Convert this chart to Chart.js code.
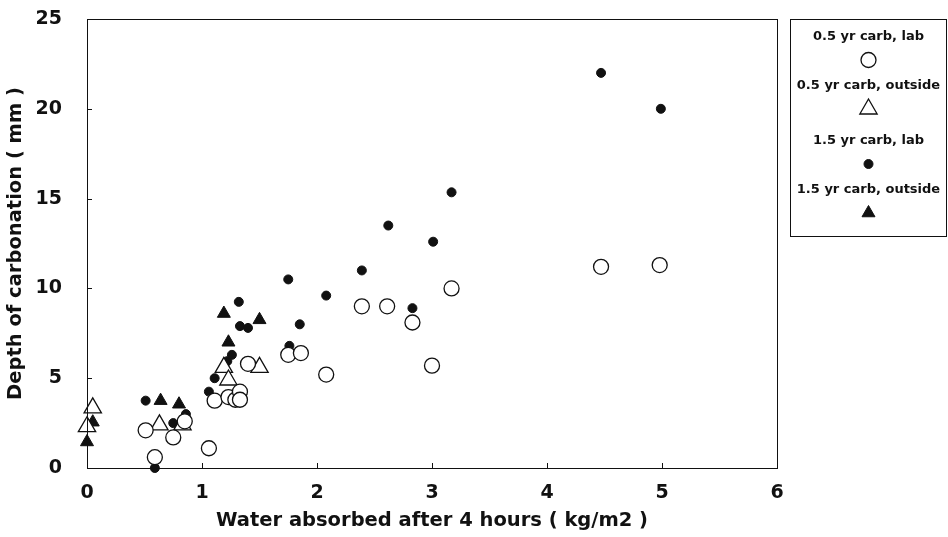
<!DOCTYPE html>
<html>
<head>
<meta charset="utf-8">
<script src="https://cdn.jsdelivr.net/npm/chart.js@4.4.1/dist/chart.umd.min.js"></script>
<style>
  body { margin: 0; background: #fff; }
  .wrap { width: 948px; height: 537px; position: relative; }
</style>
</head>
<body>
<div class="wrap"><canvas id="carbChart"></canvas></div>
<script>
// series values: water absorbed (kg/m2) vs depth of carbonation (mm)
const lab05X = [0.51, 0.59, 0.75, 0.85, 1.06, 1.11, 1.23, 1.29, 1.33, 1.33, 1.40, 1.75, 1.86, 2.08, 2.39, 2.61, 2.83, 3.00, 3.17, 4.47, 4.98];
const lab05Y = [2.1, 0.6, 1.7, 2.6, 1.1, 3.75, 3.95, 3.8, 4.25, 3.8, 5.8, 6.3, 6.4, 5.2, 9.0, 9.0, 8.1, 5.7, 10.0, 11.2, 11.3];

const out05X = [0.0, 0.05, 0.63, 0.83, 1.19, 1.23, 1.50];
const out05Y = [2.3, 3.35, 2.4, 2.4, 5.6, 4.9, 5.6];

const lab15X = [0.51, 0.59, 0.75, 0.86, 1.06, 1.11, 1.22, 1.26, 1.32, 1.33, 1.40, 1.76, 1.75, 1.85, 2.08, 2.39, 2.62, 2.83, 3.01, 3.17, 4.47, 4.99];
const lab15Y = [3.75, 0.0, 2.5, 3.0, 4.25, 5.0, 5.95, 6.3, 9.25, 7.9, 7.8, 6.8, 10.5, 8.0, 9.6, 11.0, 13.5, 8.9, 12.6, 15.35, 22.0, 20.0];

const out15X = [0.0, 0.05, 0.64, 0.80, 1.19, 1.23, 1.50];
const out15Y = [1.45, 2.55, 3.75, 3.55, 8.6, 7.0, 8.25];

const seriesNames = ['0.5 yr carb, lab', '0.5 yr carb, outside', '1.5 yr carb, lab', '1.5 yr carb, outside'];
const xTicks = [0, 1, 2, 3, 4, 5, 6];
const yTicks = [0, 5, 10, 15, 20, 25];

function pts(xs, ys) {
    return xs.map((x, i) => ({ x: x, y: ys[i] }));
}

const ink = '#111';

// inward tick marks and the box round the plot
const frameTicks = {
    id: 'frameTicks',
    afterDraw(chart) {
        const c = chart.ctx, a = chart.chartArea;
        const xs = chart.scales.x, ys = chart.scales.y;
        c.save();
        c.strokeStyle = ink;
        c.lineWidth = 1;
        c.strokeRect(a.left + 0.5, a.top + 0.5, a.right - a.left, a.bottom - a.top);
        c.beginPath();
        xTicks.forEach(v => {
            const px = Math.round(xs.getPixelForValue(v)) + 0.5;
            c.moveTo(px, a.bottom);
            c.lineTo(px, a.bottom - 5);
        });
        yTicks.forEach(v => {
            const py = Math.round(ys.getPixelForValue(v)) + 0.5;
            c.moveTo(a.left, py);
            c.lineTo(a.left + 5, py);
        });
        c.stroke();
        c.restore();
    }
};

// boxed legend at the right, label above each marker
const legendTextY = [37, 86, 141, 190];
const sideLegend = {
    id: 'sideLegend',
    afterDraw(chart) {
        const c = chart.ctx;
        const bx = 790, by = 19, bw = 157, bh = 217;
        const cx = bx + bw / 2;
        c.save();
        c.strokeStyle = ink;
        c.lineWidth = 1;
        c.strokeRect(bx + 0.5, by + 0.5, bw - 1, bh);
        c.font = 'bold 13px "DejaVu Sans", sans-serif';
        c.textAlign = 'center';
        c.textBaseline = 'middle';
        chart.data.datasets.forEach((ds, i) => {
            const ty = legendTextY[i];
            c.fillStyle = ink;
            c.fillText(ds.label, cx, ty);
            c.fillStyle = ds.backgroundColor;
            c.strokeStyle = ds.borderColor;
            c.lineWidth = ds.borderWidth;
            Chart.helpers.drawPoint(c, {
                pointStyle: ds.pointStyle,
                radius: ds.pointRadius,
                rotation: 0,
                borderWidth: ds.borderWidth
            }, cx, ty + 23);
        });
        c.restore();
    }
};

const tickFont = { family: '"DejaVu Sans", sans-serif', size: 19, weight: 'bold' };
const titleFont = { family: '"DejaVu Sans", sans-serif', size: 19.5, weight: 'bold' };

new Chart(document.getElementById('carbChart'), {
    type: 'scatter',
    data: {
        datasets: [
            { label: seriesNames[0], data: pts(lab05X, lab05Y), pointStyle: 'circle', pointRadius: 7.5,
              backgroundColor: '#fff', borderColor: ink, borderWidth: 1.3 },
            { label: seriesNames[1], data: pts(out05X, out05Y), pointStyle: 'triangle', pointRadius: 10,
              backgroundColor: '#fff', borderColor: ink, borderWidth: 1.3 },
            { label: seriesNames[2], data: pts(lab15X, lab15Y), pointStyle: 'circle', pointRadius: 4.5,
              backgroundColor: ink, borderColor: ink, borderWidth: 1 },
            { label: seriesNames[3], data: pts(out15X, out15Y), pointStyle: 'triangle', pointRadius: 7.5,
              backgroundColor: ink, borderColor: ink, borderWidth: 1 }
        ]
    },
    options: {
        responsive: true,
        maintainAspectRatio: false,
        animation: false,
        clip: false,
        layout: { padding: { top: 19, right: 171, bottom: 0, left: 0 } },
        plugins: {
            legend: { display: false },
            tooltip: { enabled: false }
        },
        scales: {
            x: {
                type: 'linear',
                min: 0,
                max: 6,
                afterBuildTicks: s => { s.ticks = xTicks.map(v => ({ value: v })); },
                afterFit: s => { s.height = 69; s.paddingLeft = 0; s.paddingRight = 0; },
                grid: { display: false, drawTicks: false },
                border: { color: ink, width: 1 },
                ticks: { color: ink, font: tickFont, padding: 14 },
                title: { display: true, text: 'Water absorbed after 4 hours ( kg/m2 )', color: ink, font: titleFont }
            },
            y: {
                type: 'linear',
                min: 0,
                max: 25,
                afterBuildTicks: s => { s.ticks = yTicks.map(v => ({ value: v })); },
                afterFit: s => { s.width = 87; s.paddingTop = 0; s.paddingBottom = 0; },
                grid: { display: false, drawTicks: false },
                border: { color: ink, width: 1 },
                ticks: { color: ink, font: tickFont, padding: 25 },
                title: { display: true, text: 'Depth of carbonation ( mm )', color: ink, font: titleFont }
            }
        }
    },
    plugins: [frameTicks, sideLegend]
});
</script>
</body>
</html>
